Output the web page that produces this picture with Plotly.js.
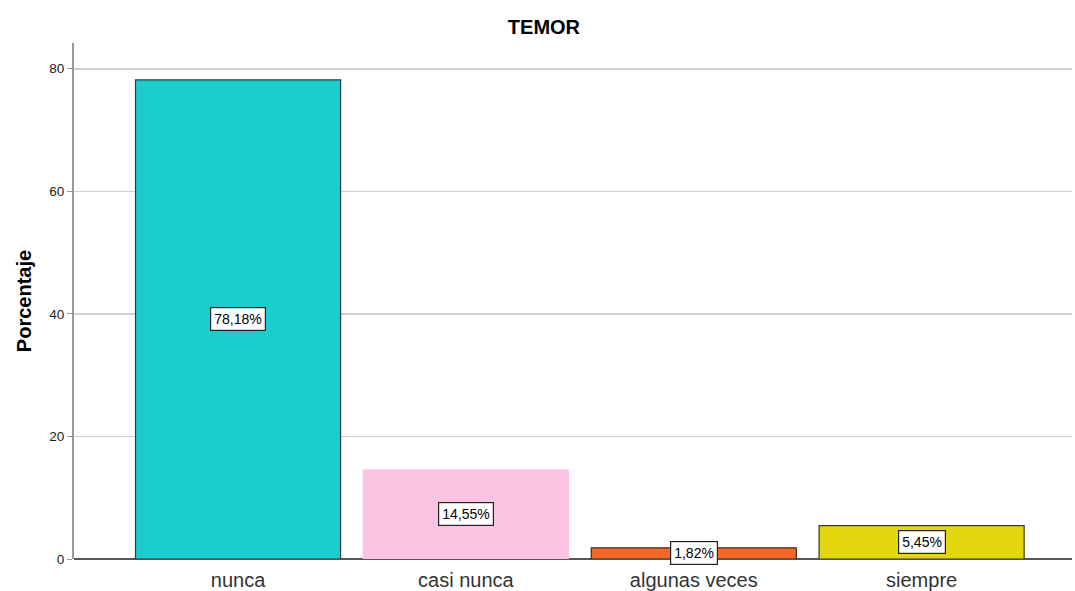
<!DOCTYPE html>
<html><head><meta charset="utf-8">
<script src="https://cdn.plot.ly/plotly-3.0.1.min.js"></script>
<style>html,body{margin:0;padding:0;background:#fff}#c{width:1075px;height:591px}</style>
</head><body><div id="c"></div>
<script>
var categories = ["nunca", "casi nunca", "algunas veces", "siempre"];
var values = [78.18, 14.55, 1.82, 5.45];
var labels = ["78,18%", "14,55%", "1,82%", "5,45%"];
var colors = ["#1ccdcd", "#fdc3e2", "#f2692a", "#e2d70f"];
var lineColors = ["#2a3a3a", "#fdc3e2", "#3a2a20", "#3a3a20"];

var trace = {
  type: "bar", x: categories, y: values, width: 0.9,
  marker: {color: colors, line: {color: lineColors, width: 1.2}},
  hoverinfo: "none"
};
var annotations = categories.map(function(c, i){
  return {x: c, y: values[i]/2, xref: "x", yref: "y", text: labels[i], showarrow: false,
    bgcolor: "#ffffff", bordercolor: "#222", borderwidth: 1.2, borderpad: 3,
    font: {family: "Arial, Liberation Sans", size: 14, color: "#000"}};
});
var layout = {
  width: 1075, height: 591,
  margin: {l: 74, r: 3, t: 43, b: 32},
  paper_bgcolor: "#fff", plot_bgcolor: "#fff",
  title: {text: "<b>TEMOR</b>", x: 0.506, xanchor: "center", y: 0.955, yanchor: "middle",
    font: {family: "Arial, Liberation Sans", size: 20, color: "#000"}},
  xaxis: {range: [-0.72, 3.66], showgrid: false, zeroline: false, showline: false,
    ticks: "", tickfont: {family: "Arial, Liberation Sans", size: 20, color: "#333"}, ticklabelstandoff: 7},
  yaxis: {range: [0, 84.2], tickvals: [0, 20, 40, 60, 80], showgrid: true, gridcolor: "#d0d0d0", gridwidth: 1.6,
    zeroline: true, zerolinecolor: "#555", zerolinewidth: 1.5,
    showline: true, linecolor: "#999", linewidth: 2, ticks: "outside", ticklen: 5, tickcolor: "#999",
    tickfont: {family: "Arial, Liberation Sans", size: 13.5, color: "#222"},
    title: {text: "<b>Porcentaje</b>", standoff: 12, font: {family: "Arial, Liberation Sans", size: 20, color: "#000"}}},
  annotations: annotations,
  showlegend: false, bargap: 0.1
};
Plotly.newPlot("c", [trace], layout, {displayModeBar: false, staticPlot: true});
</script></body></html>
